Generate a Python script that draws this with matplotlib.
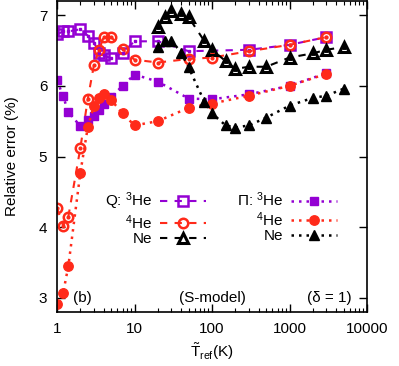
import matplotlib
matplotlib.use('Agg')
import matplotlib.pyplot as plt
import numpy as np

plt.rcParams['font.family'] = ['Liberation Sans', 'DejaVu Sans']
plt.rcParams['mathtext.default'] = 'regular'
plt.rcParams['font.size'] = 11

# temperatures
T_he = [1, 1.2, 1.4, 2, 2.5, 3, 3.5, 4, 5, 7, 10, 20, 50, 100, 300, 1000, 3000]
T_he3_q = [1, 1.2, 1.4, 2, 2.5, 3, 3.5, 4, 5, 7, 10, 20, 50, 300, 1000, 3000]
T_ne = [20, 25, 30, 40, 50, 80, 100, 150, 200, 300, 500, 1000, 2000, 3000, 5000]

# Q (heat flux) errors
q_he3 = [6.73, 6.77, 6.77, 6.80, 6.71, 6.61, 6.47, 6.43, 6.39, 6.47, 6.63, 6.63, 6.49, 6.51, 6.58, 6.69]
q_he4 = [4.27, 4.02, 4.15, 5.12, 5.82, 6.30, 6.51, 6.69, 6.69, 6.52, 6.37, 6.33, 6.38, 6.40, 6.49, 6.58, 6.69]
q_ne = [6.83, 6.97, 7.06, 7.01, 6.97, 6.63, 6.51, 6.35, 6.24, 6.27, 6.27, 6.40, 6.46, 6.51, 6.55]

# Pi (pressure) errors
p_he3 = [6.08, 5.85, 5.63, 5.43, 5.51, 5.58, 5.66, 5.74, 5.84, 6.00, 6.16, 6.06, 5.82, 5.81, 5.88, 6.00, 6.18]
p_he4 = [2.91, 3.07, 3.45, 4.77, 5.42, 5.72, 5.83, 5.88, 5.80, 5.61, 5.44, 5.50, 5.69, 5.75, 5.86, 6.00, 6.17]
p_ne = [6.55, 6.63, 6.64, 6.47, 6.26, 5.77, 5.61, 5.44, 5.41, 5.44, 5.55, 5.72, 5.83, 5.86, 5.96]

purple = '#9400d3'
red = '#ff2a1a'
black = 'black'

fig = plt.figure(figsize=(3.99, 3.66), dpi=100)
ax = fig.add_axes([0.1429, 0.1475, 0.7769, 0.8497])

dash = (0, (3.5, 3.5))
dot = (0, (1, 2))

l1, = ax.plot(T_he3_q, q_he3, color=purple, ls=dash, lw=1.5, marker='s', ms=6.5,
              mfc='none', mew=1.8, label='Q: $^3$He')
l2, = ax.plot(T_he, q_he4, color=red, ls=dash, lw=1.5, marker='o', ms=6.8,
              mfc='none', mew=1.8, label='$^4$He')
l3, = ax.plot(T_ne, q_ne, color=black, ls=dash, lw=1.5, marker='^', ms=7.5,
              mfc='none', mew=2.2, label='Ne')
# small centre marks of the open symbols
ax.plot(T_he3_q, q_he3, ls='none', marker='s', ms=2, color=purple)
ax.plot(T_he, q_he4, ls='none', marker='o', ms=2, color=red)
ax.plot(T_ne, q_ne, ls='none', marker='^', ms=2.5, color=black)

l4, = ax.plot(T_he, p_he3, color=purple, ls=dot, lw=1.8, marker='s', ms=6.3,
              label='Π: $^3$He')
l5, = ax.plot(T_he, p_he4, color=red, ls=dot, lw=1.8, marker='o', ms=6.8,
              label='$^4$He')
l6, = ax.plot(T_ne, p_ne, color=black, ls=dot, lw=1.8, marker='^', ms=6.5,
              label='Ne')

ax.set_xscale('log')
ax.set_xlim(1, 10000)
ax.set_ylim(2.8, 7.2)
ax.set_yticks([3, 4, 5, 6, 7])
ax.set_xticks([1, 10, 100, 1000, 10000])
ax.set_xticklabels(['1', '10', '100', '1000', '10000'])
ax.tick_params(which='both', direction='in', top=True, right=True)
ax.tick_params(which='major', length=6, width=1, pad=7)
ax.tick_params(which='minor', length=3, width=0.8)
for s in ax.spines.values():
    s.set_linewidth(1.2)

ax.set_ylabel('Relative error (%)', labelpad=14)
ax.set_xlabel(r'$\tilde{T}_{ref}$(K)', labelpad=4)

leg1 = ax.legend(handles=[l1, l2, l3], loc='upper left', bbox_to_anchor=(0.13, 0.415),
                 frameon=False, markerfirst=False, handlelength=3.0,
                 labelspacing=0.05, handletextpad=0.5, borderpad=0)
ax.add_artist(leg1)
ax.legend(handles=[l4, l5, l6], loc='upper left', bbox_to_anchor=(0.555, 0.415),
          frameon=False, markerfirst=False, handlelength=3.0,
          labelspacing=0.05, handletextpad=0.5, borderpad=0)

ax.text(0.05, 0.045, '(b)', transform=ax.transAxes, ha='left', va='center')
ax.text(0.50, 0.045, '(S-model)', transform=ax.transAxes, ha='center', va='center')
ax.text(0.95, 0.045, '(δ = 1)', transform=ax.transAxes, ha='right', va='center')

fig.savefig('out.png', dpi=100)
